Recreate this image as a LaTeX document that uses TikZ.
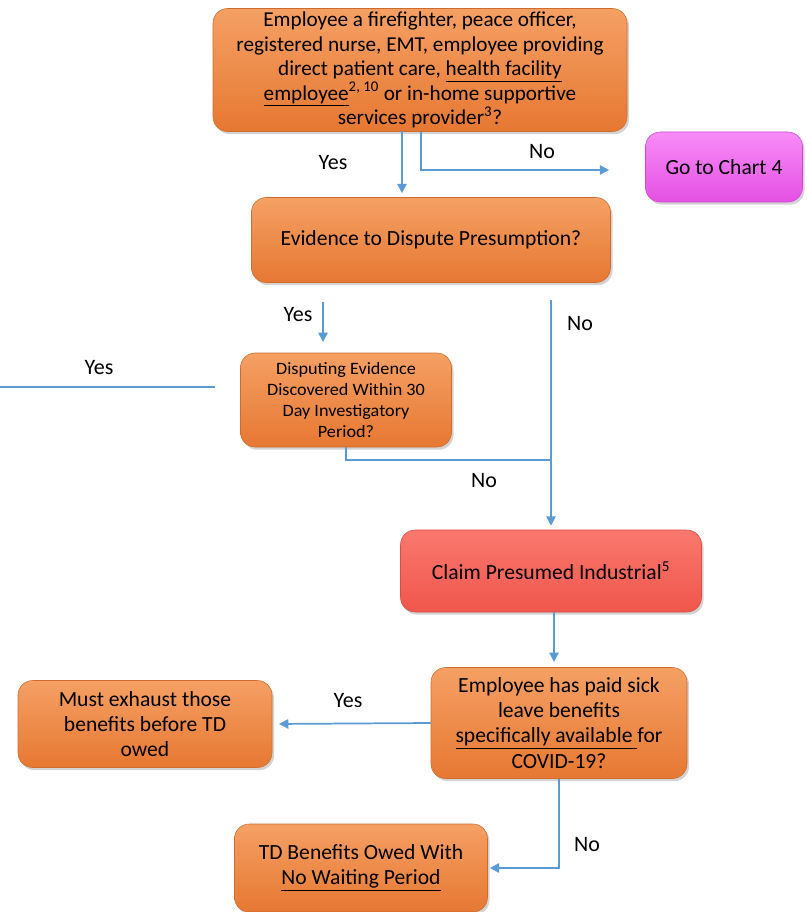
\documentclass[tikz,border=0pt]{standalone}
\usepackage{fontspec}
\setmainfont{Carlito}
\newfontfamily\widefont[FakeStretch=1.05]{Carlito}
\usetikzlibrary{arrows.meta,shadows,calc}
\definecolor{conn}{RGB}{91,155,213}
\definecolor{orTop}{RGB}{245,160,100}
\definecolor{orMid}{RGB}{236,128,58}
\definecolor{orBot}{RGB}{230,120,50}
\definecolor{mgTop}{RGB}{248,140,248}
\definecolor{mgMid}{RGB}{235,90,235}
\definecolor{mgBot}{RGB}{228,80,228}
\definecolor{rdTop}{RGB}{250,120,110}
\definecolor{rdMid}{RGB}{245,92,82}
\definecolor{rdBot}{RGB}{240,86,76}
\tikzset{
  box/.style={rounded corners=11pt, inner sep=0pt, align=center, text=black,
    top color=orTop, middle color=orMid, bottom color=orBot, draw=orBot!90!black, line width=0.4pt,
    drop shadow={shadow xshift=1.5pt, shadow yshift=-2pt, opacity=0.35},
    font=\fontsize{16.2}{18.8}\selectfont},
  magbox/.style={box, top color=mgTop, middle color=mgMid, bottom color=mgBot, draw=mgBot!90!black},
  redbox/.style={box, top color=rdTop, middle color=rdMid, bottom color=rdBot, draw=rdBot!90!black},
  conline/.style={draw=conn, line width=1.3pt},
  arr/.style={conline, -{Triangle[length=7pt,width=7pt]}},
  lbl/.style={font=\fontsize{16.5}{19}\selectfont, inner sep=0pt}
}
\begin{document}
\begin{tikzpicture}[x=0.75pt,y=-0.75pt]
\useasboundingbox (0,0) rectangle (806,912);

\node[box, minimum width=310.5pt, minimum height=92.25pt, font=\fontsize{15.9}{18.4}\selectfont] (top) at (420,70)
  {Employee a firefighter, peace officer,\\registered nurse, EMT, employee providing\\direct patient care, \underline{health facility}\\\underline{employee}\textsuperscript{2, 10} or in-home supportive\\services provider\textsuperscript{3}?};
\node[magbox, minimum width=117.75pt, minimum height=52.5pt] (go) at (724,167) {Go to Chart 4};
\node[box, minimum width=269.25pt, minimum height=63.75pt] (ev) at (431,240) {Evidence to Dispute Presumption?};
\node[box, minimum width=158.25pt, minimum height=70.5pt, font=\widefont\fontsize{13}{15.75}\selectfont] (dis) at (346,400)
  {Disputing Evidence\\Discovered Within 30\\Day Investigatory\\Period?};
\node[redbox, minimum width=225.75pt, minimum height=61.5pt] (claim) at (551,571) {Claim Presumed Industrial\textsuperscript{5}};
\node[box, minimum width=192pt, minimum height=83.25pt] (sick) at (559,723)
  {Employee has paid sick\\leave benefits\\\underline{specifically available }for\\COVID-19?};
\node[box, minimum width=190.5pt, minimum height=65.25pt] (must) at (145,724)
  {Must exhaust those\\benefits before TD\\owed};
\node[box, minimum width=189.75pt, minimum height=66pt] (td) at (361,868)
  {TD Benefits Owed With\\\underline{No Waiting Period}};

% top -> evidence (Yes)
\coordinate (ya) at (402,131);
\draw[arr, shorten >=3pt] (ya) -- (ya |- ev.north);
\node[lbl] at (333,163) {Yes};
% top -> go (No)
\coordinate (nb) at (421,170);
\draw[arr, shorten >=27pt] (top.south -| nb) |- (go.west |- nb);
\node[lbl] at (542,152) {No};
% evidence -> disputing (Yes)
\coordinate (yc1) at (323,302);
\coordinate (yc2) at (323,342);
\draw[arr] (yc1) -- (yc2);
\node[lbl] at (298,315) {Yes};
% evidence -> claim (No)
\coordinate (nc) at (551,300);
\draw[arr, shorten >=3pt] (nc) -- (claim.north);
\node[lbl] at (580,324) {No};
% disputing -> junction (No)
\coordinate (j) at (551,460);
\draw[conline] (dis.south) |- (j);
\node[lbl] at (484,481) {No};
% disputing -> left (Yes)
\coordinate (ly1) at (0,387);
\coordinate (ly2) at (215,387);
\draw[conline] (ly2) -- (ly1);
\node[lbl] at (99,368) {Yes};
% claim -> sick
\draw[arr, shorten >=4pt] ([xshift=2.25pt]claim.south) -- ([xshift=2.25pt]claim.south |- sick.north);
% sick -> must (Yes)
\draw[arr, shorten >=5pt] (sick.west) -- (must.east);
\node[lbl] at (348,701) {Yes};
% sick -> td (No)
\draw[arr, shorten >=1.5pt] (sick.south) |- (td.east);
\node[lbl] at (587,845) {No};
\end{tikzpicture}
\end{document}
